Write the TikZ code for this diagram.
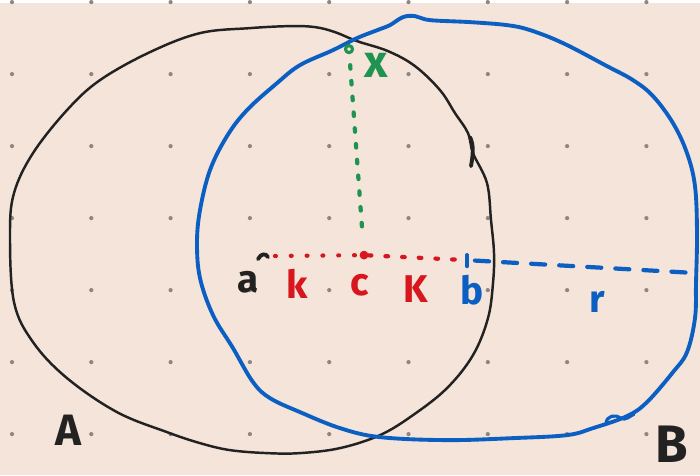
\documentclass[tikz,border=0pt]{standalone}
\usepackage{fontspec}
\setmainfont{Fira Sans}
\usetikzlibrary{calc}
\definecolor{paper}{HTML}{F4E4D9}
\definecolor{inkdot}{HTML}{8C8782}
\definecolor{inkblack}{HTML}{222222}
\definecolor{inkblue}{HTML}{0B5EC2}
\definecolor{inkred}{HTML}{D7161E}
\definecolor{inkgreen}{HTML}{1F9350}
\newcommand{\penlabel}[4]{%
  \node[inner sep=0pt, #3] (#1) at (#2) {#4};}

\begin{document}
\begin{tikzpicture}[x=0.02cm, y=-0.02cm, line cap=round, line join=round,
    font=\bfseries\fontsize{22}{22}\selectfont]
  \fill[paper] (0,0) rectangle (700,472);
  \foreach \i in {0,...,8}
    \foreach \j in {0,...,6}
      \fill[inkdot] (12+79.3*\i, -1+72*\j) circle (1.2pt);
  \draw[inkblack, line width=1.4pt] plot[smooth cycle, tension=0.6] coordinates {
    (10,232) (14,190) (33,150) (67,107) (100,77) (150,49) (200,30) (250,25)
    (290,23) (315,24) (335,29) (357,38) (388,48) (415,63) (440,87) (455,110)
    (468,130) (473,150) (487,180) (491,217) (494,250) (493,280) (488,315)
    (473,352) (447,385) (413,412) (380,432) (340,445) (300,450) (267,450)
    (230,447) (200,440) (167,429) (117,409) (67,375) (33,339) (14,299)};
  \draw[inkblack, line width=2.2pt] (470,134) .. controls (474,142) and (473,152) .. (471,163);
  \draw[inkblue, line width=2.2pt] plot[smooth cycle, tension=0.6] coordinates {
    (197,240) (200,207) (210,167) (227,133) (247,107) (277,80) (300,62)
    (333,47) (357,35) (380,26) (390,22) (403,14) (415,13) (430,17) (470,19)
    (507,22) (530,27) (563,40) (607,63) (633,77) (653,93) (673,120) (687,150)
    (695,183) (697,230) (696,280) (695,315) (687,349) (673,369) (647,399)
    (627,413) (593,425) (567,432) (513,435) (447,437) (380,434) (340,425)
    (300,409) (270,395) (253,379) (233,345) (213,312) (200,275)};
  \draw[inkblue, line width=1.8pt] (606,421) .. controls (606,412) and (616,411) .. (621,415)
    .. controls (625,418) and (630,413) .. (634,411);

  \coordinate (a) at (265,253);
  \node[circle, fill=inkred, inner sep=0pt, minimum size=5pt] (c) at (364,252) {};
  \coordinate (b) at (467,257);
  \node[circle, draw=inkgreen, line width=1.8pt, inner sep=0pt, minimum size=4pt] (x) at (349,46) {};
  \coordinate (rend) at (697,270);

  \draw[inkblack, line width=2.2pt] ($(a)+(-7,3)$) .. controls ($(a)+(-4,-3)$) and ($(a)+(1,-3)$) .. ($(a)+(3,1)$);
  \draw[inkblue, line width=2.4pt] ($(b)+(0,-5)$) -- ($(b)+(0,6)$);
  \draw[inkred, line width=2.4pt, dash pattern=on 0.5pt off 8.5pt, shorten <=0.2cm] (a) -- (c);
  \draw[inkred, line width=2.4pt, dash pattern=on 1.5pt off 8pt, shorten >=0.12cm] (c) -- (b);
  \draw[inkgreen, line width=2.4pt, dash pattern=on 2pt off 7pt, shorten <=0.22cm, shorten >=0.4cm] (x) -- (c);
  \draw[inkblue, line width=2.4pt, dash pattern=on 8pt off 8pt, shorten <=0.16cm] (b) -- (rend);

  \penlabel{la}{248,279}{text=inkblack}{a}
  \penlabel{lk}{297,281}{text=inkred}{k}
  \penlabel{lc}{360,282}{text=inkred}{c}
  \penlabel{lK}{416,286}{text=inkred}{K}
  \penlabel{lb}{472,287}{text=inkblue}{b}
  \penlabel{lr}{597,299}{text=inkblue}{r}
  \penlabel{lx}{376,62}{text=inkgreen, font=\bfseries\fontsize{26}{26}\selectfont}{x}
  \penlabel{lA}{68,427}{text=inkblack, font=\bfseries\fontsize{25}{25}\selectfont}{A}
  \penlabel{lB}{672,441}{text=inkblack, font=\bfseries\fontsize{30}{30}\selectfont}{B}
\end{tikzpicture}
\end{document}
